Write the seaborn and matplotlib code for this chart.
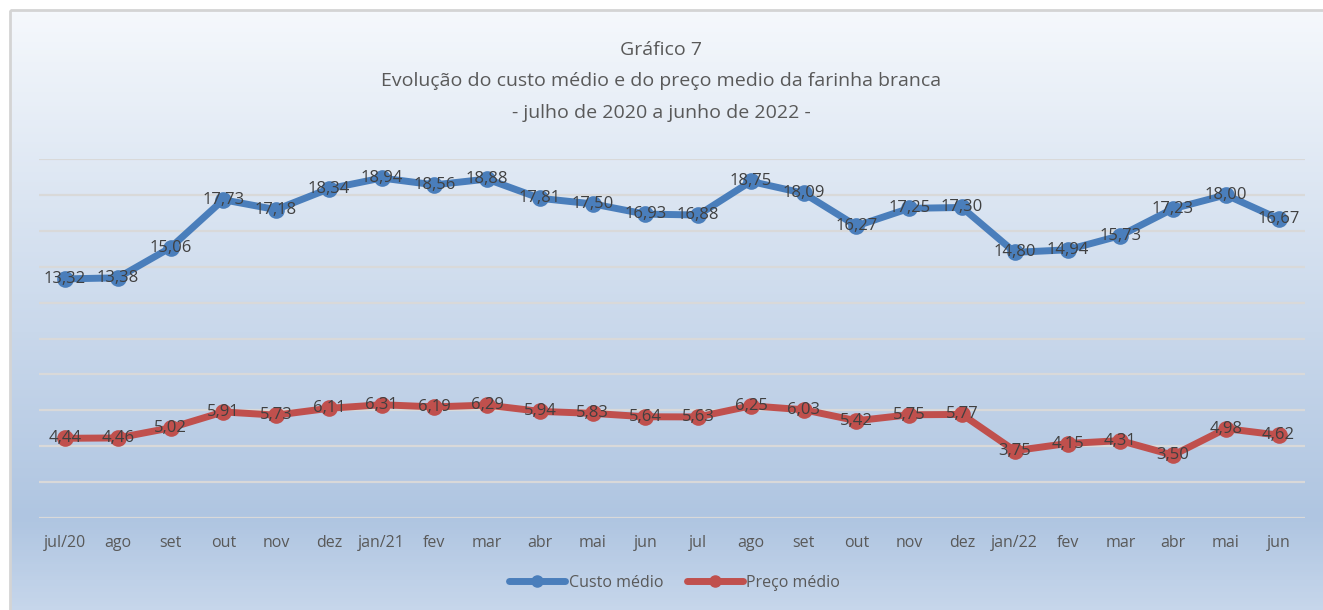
import numpy as np
import pandas as pd
import seaborn as sns
import matplotlib.pyplot as plt
from matplotlib.colors import LinearSegmentedColormap
from matplotlib.patches import Rectangle

# ===============================
# 1) DATA
# ===============================
meses = ["jul/20", "ago", "set", "out", "nov", "dez", "jan/21", "fev", "mar", "abr",
         "mai", "jun", "jul", "ago", "set", "out", "nov", "dez", "jan/22", "fev",
         "mar", "abr", "mai", "jun"]
custo_medio = [13.32, 13.38, 15.06, 17.73, 17.18, 18.34, 18.94, 18.56, 18.88, 17.81,
               17.50, 16.93, 16.88, 18.75, 18.09, 16.27, 17.25, 17.30, 14.80, 14.94,
               15.73, 17.23, 18.00, 16.67]
preco_medio = [4.44, 4.46, 5.02, 5.91, 5.73, 6.11, 6.31, 6.19, 6.29, 5.94,
               5.83, 5.64, 5.63, 6.25, 6.03, 5.42, 5.75, 5.77, 3.75, 4.15,
               4.31, 3.50, 4.98, 4.62]
series = ["Custo médio", "Preço médio"]
cores = {"Custo médio": "#4a7ebb", "Preço médio": "#c0504d"}

df = pd.DataFrame({
    "pos": list(range(len(meses))) * 2,
    "valor": custo_medio + preco_medio,
    "serie": [series[0]] * len(meses) + [series[1]] * len(meses),
})

# ===============================
# 2) FIGURE + BACKGROUND
# ===============================
sns.set_theme(style="white")
plt.rcParams["font.family"] = ["Open Sans", "DejaVu Sans"]

W, H = 1323, 610
fig = plt.figure(figsize=(W / 100, H / 100), dpi=100)
fig.patch.set_facecolor("white")

bg = fig.add_axes([0, 0, 1, 1], zorder=-5)
bg.set_xlim(0, W)
bg.set_ylim(H, 0)
bg.axis("off")
grad = LinearSegmentedColormap.from_list(
    "bg", [(0.0, "#f5f8fc"), (0.85, "#afc5e1"), (1.0, "#c6d6eb")])
g = np.linspace(0, 1, 300).reshape(-1, 1)
bg.imshow(g, cmap=grad, aspect="auto", extent=[10, W + 2, H, 10], zorder=0)
bg.add_patch(Rectangle((10, 10), W, H, fill=False, edgecolor="#d4d4d4", lw=2, zorder=1))

# ===============================
# 3) LINE PLOT
# ===============================
ax = fig.add_axes([38.6 / W, (H - 518) / H, (1305 - 38.6) / W, (518 - 159) / H])
ax.patch.set_alpha(0)

sns.lineplot(data=df, x="pos", y="valor", hue="serie", palette=cores,
             marker="o", markersize=12, markeredgewidth=0, linewidth=5,
             ax=ax, legend=False, zorder=3)

for vals, s in [(custo_medio, series[0]), (preco_medio, series[1])]:
    for i, v in enumerate(vals):
        ax.text(i, v, f"{v:.2f}".replace(".", ","), ha="center", va="center",
                fontsize=12, color="#404040", zorder=4)

ax.set_ylim(0, 20)
ax.set_xlim(-0.5, len(meses) - 0.5)
ax.set_yticks(np.arange(0, 21, 2))
ax.yaxis.grid(True, color="#d9d9d9", lw=1.6)
ax.set_yticklabels([])
ax.tick_params(axis="y", length=0)
ax.set_xticks(range(len(meses)))
ax.set_xticklabels(meses, fontsize=11.5, color="#595959")
ax.tick_params(axis="x", length=0, pad=12)
ax.set_xlabel("")
ax.set_ylabel("")
for sp in ax.spines.values():
    sp.set_visible(False)

# ===============================
# 4) TITLE + LEGEND
# ===============================
titulo = ["Gráfico 7",
          "Evolução do custo médio e do preço medio da farinha branca",
          "- julho de 2020 a junho de 2022 -"]
for k, linha in enumerate(titulo):
    fig.text(0.5, 1 - (50 + 31.5 * k) / H, linha, ha="center", va="center",
             fontsize=14, color="#595959")

handles = [plt.Line2D([], [], color=cores[s], lw=5, marker="o", markersize=8) for s in series]
fig.legend(handles, series, loc="center", bbox_to_anchor=(0.51, 1 - 583 / H), ncol=2,
           frameon=False, fontsize=11.5, labelcolor="#595959", handlelength=3.5,
           handletextpad=0.2, columnspacing=1.5)

fig.savefig("out.png", dpi=100)
